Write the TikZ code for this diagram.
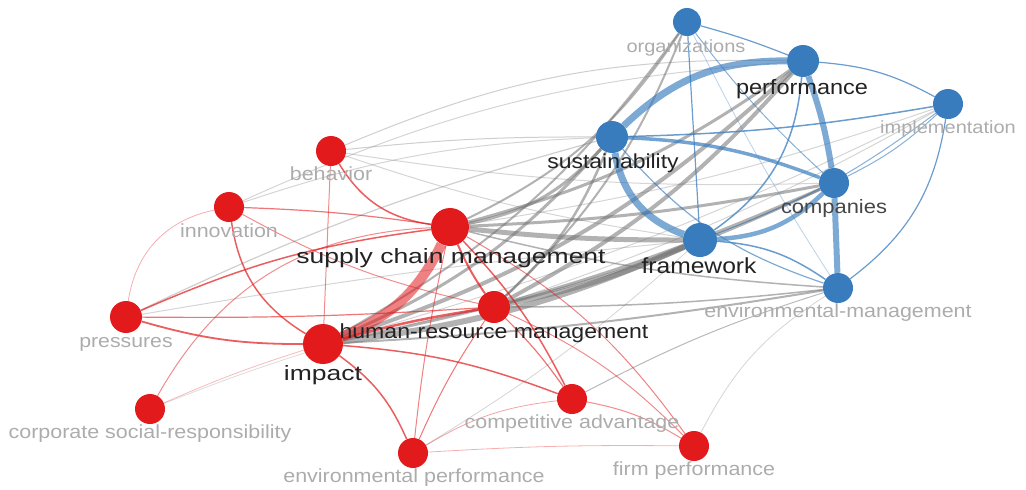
\documentclass[tikz,border=0pt]{standalone}
\usepackage{fontspec}
\setmainfont[FakeStretch=1.13]{Liberation Sans}
\newfontfamily\bigfam[FakeStretch=1.28]{Liberation Sans}
\newcommand\fsz[1]{\fontsize{#1}{#1}\selectfont}
\definecolor{rnode}{RGB}{227,26,28}
\definecolor{bnode}{RGB}{56,124,189}
\definecolor{gedge}{RGB}{115,115,115}
\definecolor{ldark}{RGB}{34,34,34}
\definecolor{lmid}{RGB}{70,70,70}
\definecolor{lgray}{RGB}{172,172,172}
\pgfdeclarelayer{edges}
\pgfsetlayers{edges,main}
\tikzset{
  rn/.style={circle, fill=rnode, inner sep=0, minimum size=#1},
  bn/.style={circle, fill=bnode, inner sep=0, minimum size=#1},
  ge/.style 2 args={draw=gedge, line width=#1, draw opacity=#2},
  re/.style 2 args={draw=rnode, line width=#1, draw opacity=#2},
  be/.style 2 args={draw=bnode, line width=#1, draw opacity=#2},
  lab/.style={anchor=base, inner sep=0},
}
\begin{document}
\begin{tikzpicture}[x=1pt,y=-1pt]
\useasboundingbox (0,0) rectangle (1026,490);
% nodes
\node[bn=28] (org) at (687,22) {};
\node[bn=32] (perf) at (803,61) {};
\node[bn=30] (impl) at (948,104) {};
\node[bn=32] (sus) at (612,137) {};
\node[bn=30] (comp) at (834,183) {};
\node[bn=34] (fw) at (700,240) {};
\node[bn=30] (em) at (838,288) {};
\node[rn=30] (beh) at (331,151) {};
\node[rn=30] (inn) at (229,207) {};
\node[rn=38] (scm) at (450,227) {};
\node[rn=32] (hrm) at (494,307) {};
\node[rn=32] (pre) at (126,317) {};
\node[rn=40] (imp) at (323,344) {};
\node[rn=30] (csr) at (150,409) {};
\node[rn=30] (ca) at (572,399) {};
\node[rn=30] (ep) at (413,453) {};
\node[rn=30] (fp) at (694,446) {};
\begin{pgfonlayer}{edges}
% gray inter-cluster edges
\draw[ge={1}{.3}] (scm) to[bend right=5] (impl);
\draw[ge={1}{.3}] (hrm) to[bend right=5] (impl);
\draw[ge={1}{.3}] (imp) to[bend right=5] (impl);
\draw[ge={1}{.35}] (beh) to[bend left=12] (perf);
\draw[ge={1}{.35}] (beh) to[bend left=3] (sus);
\draw[ge={1}{.3}] (beh) to[bend right=5] (comp);
\draw[ge={1}{.3}] (beh) to[bend right=5] (fw);
\draw[ge={1}{.3}] (inn) to[bend left=8] (sus);
\draw[ge={1}{.3}] (inn) to[bend left=10] (perf);
\draw[ge={1.2}{.35}] (pre) to[bend left=5] (sus);
\draw[ge={1}{.3}] (pre) to[bend left=2] (fw);
\draw[ge={1}{.5}] (ca) to[bend left=5] (em);
\draw[ge={.8}{.3}] (fp) to[bend left=15] (em);
\draw[ge={.8}{.3}] (ep) to[bend right=5] (fw);
\draw[ge={.8}{.25}] (csr) to[bend left=5] (hrm);
\draw[ge={2}{.55}] (imp) to[bend right=12] (org);
\draw[ge={2}{.55}] (scm) to[bend right=15] (org);
\draw[ge={2}{.55}] (hrm) to[bend right=12] (org);
\draw[ge={2}{.55}] (imp) to[bend right=3] (em);
\draw[ge={1.5}{.55}] (hrm) to[bend right=3] (em);
\draw[ge={1.5}{.55}] (scm) to[bend right=5] (em);
\draw[ge={3}{.55}] (imp) to[bend right=6] (comp);
\draw[ge={3}{.55}] (scm) to[bend right=4] (comp);
\draw[ge={2.5}{.55}] (hrm) to[bend right=5] (comp);
\draw[ge={3}{.55}] (imp) to[bend right=12] (sus);
\draw[ge={3}{.55}] (scm) to[bend right=18] (sus);
\draw[ge={2.5}{.55}] (hrm) to[bend right=12] (sus);
\draw[ge={4}{.55}] (imp) to[bend right=12] (perf);
\draw[ge={4}{.55}] (hrm) to[bend right=10] (perf);
\draw[ge={3}{.55}] (scm) to[bend right=10] (perf);
\draw[ge={6}{.55}] (imp) to[bend right=8] (fw);
\draw[ge={5}{.55}] (scm) to[bend right=3] (fw);
\draw[ge={5}{.55}] (hrm) to[bend right=6] (fw);
% red edges
\draw[re={.8}{.35}] (pre) to[bend left=35] (inn);
\draw[re={.8}{.3}] (csr) to[bend left=3] (imp);
\draw[re={1}{.5}] (csr) to[bend left=29] (scm);
\draw[re={1}{.5}] (beh) to (imp);
\draw[re={1.2}{.6}] (inn) to[bend left=3] (scm);
\draw[re={1.5}{.7}] (inn) to[bend right=25] (imp);
\draw[re={1}{.5}] (inn) to[bend right=8] (hrm);
\draw[re={1.5}{.7}] (beh) to[bend right=25] (scm);
\draw[re={1.5}{.7}] (pre) to[bend left=8] (scm);
\draw[re={1.2}{.6}] (pre) to[bend right=2] (hrm);
\draw[re={1.8}{.7}] (pre) to[bend right=8] (imp);
\draw[re={2}{.7}] (scm) to[bend right=5] (hrm);
\draw[re={1.5}{.7}] (scm) to[bend left=8] (ca);
\draw[re={1}{.55}] (scm) to[bend left=12] (fp);
\draw[re={1}{.55}] (scm) to[bend right=3] (ep);
\draw[re={1.5}{.7}] (imp) to[bend left=15] (ep);
\draw[re={1.5}{.7}] (imp) to[bend left=8] (ca);
\draw[re={2.5}{.7}] (imp) to[bend left=3] (hrm);
\draw[re={1}{.6}] (hrm) to[bend right=5] (ep);
\draw[re={1.2}{.6}] (hrm) to[bend left=5] (ca);
\draw[re={1}{.5}] (hrm) to[bend left=10] (fp);
\draw[re={.8}{.4}] (ep) to[bend left=12] (ca);
\draw[re={.8}{.35}] (ep) to[bend left=2] (fp);
\draw[re={1}{.5}] (ca) to[bend left=10] (fp);
\draw[re={10}{.55}] (scm) to[bend left=21] (imp);
% blue edges
\draw[be={.8}{.35}] (org) to[bend right=3] (em);
\draw[be={1.2}{.75}] (org) to[bend left=3] (perf);
\draw[be={1.2}{.75}] (org) to (fw);
\draw[be={1}{.6}] (org) to[bend right=5] (comp);
\draw[be={1.5}{.75}] (sus) to[bend right=4] (impl);
\draw[be={1.2}{.75}] (perf) to[bend left=12] (impl);
\draw[be={1.5}{.75}] (perf) to[bend left=25] (fw);
\draw[be={1}{.6}] (comp) to[bend right=8] (impl);
\draw[be={1}{.6}] (fw) to[bend right=8] (impl);
\draw[be={1.2}{.75}] (em) to[bend right=22] (impl);
\draw[be={1.5}{.75}] (fw) to[bend left=15] (em);
\draw[be={1.2}{.65}] (sus) to[bend right=15] (em);
\draw[be={3.5}{.7}] (sus) to[bend left=9] (comp);
\draw[be={4.5}{.65}] (fw) to[bend right=20] (comp);
\draw[be={7}{.65}] (sus) to[bend left=22] (perf);
\draw[be={7}{.65}] (sus) to[bend right=30] (fw);
\draw[be={6}{.65}] (perf) to[bend left=5] (comp);
\draw[be={6}{.65}] (comp) to (em);
\end{pgfonlayer}
% labels
\node[lab, text=lgray, font=\fsz{17.7}] (org-l) at (686,52) {organizations};
\node[lab, text=ldark, font=\fsz{20.8}] (perf-l) at (802,94) {performance};
\node[lab, text=lgray, font=\fsz{17.7}] (impl-l) at (948,133) {implementation};
\node[lab, text=ldark, font=\fsz{20.3}] (sus-l) at (613,168) {sustainability};
\node[lab, text=lmid, font=\fsz{19.4}] (comp-l) at (834,213) {companies};
\node[lab, text=ldark, font=\fsz{21.8}] (fw-l) at (699,273) {framework};
\node[lab, text=lgray, font=\fsz{19}] (em-l) at (838,317) {environmental-management};
\node[lab, text=lgray, font=\fsz{19}] (beh-l) at (331,180) {behavior};
\node[lab, text=lgray, font=\fsz{19}] (inn-l) at (229,237) {innovation};
\node[lab, text=ldark, font=\bigfam\fsz{20.7}] (scm-l) at (451,263) {supply chain management};
\node[lab, text=ldark, font=\fsz{20.4}] (hrm-l) at (494,338) {human-resource management};
\node[lab, text=lgray, font=\fsz{18.8}] (pre-l) at (126,347) {pressures};
\node[lab, text=ldark, font=\bigfam\fsz{20.7}] (imp-l) at (323,380) {impact};
\node[lab, text=lgray, font=\fsz{19}] (csr-l) at (150,438) {corporate social-responsibility};
\node[lab, text=lgray, font=\fsz{19}] (ca-l) at (572,428) {competitive advantage};
\node[lab, text=lgray, font=\fsz{19}] (ep-l) at (414,482) {environmental performance};
\node[lab, text=lgray, font=\fsz{19}] (fp-l) at (694,475) {firm performance};
\end{tikzpicture}
\end{document}
